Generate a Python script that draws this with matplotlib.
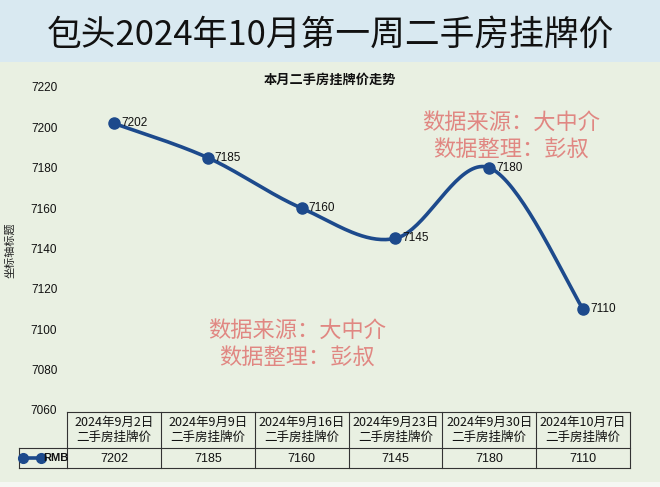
import numpy as np
import matplotlib
matplotlib.use('Agg')
import matplotlib.pyplot as plt
from matplotlib.lines import Line2D
from matplotlib.patches import Rectangle

plt.rcParams['font.family'] = ['Noto Sans CJK SC', 'DejaVu Sans']

title = '包头2024年10月第一周二手房挂牌价'
chart_title = '本月二手房挂牌价走势'
dates = ['2024年9月2日', '2024年9月9日', '2024年9月16日', '2024年9月23日',
         '2024年9月30日', '2024年10月7日']
row_label = '二手房挂牌价'
series_name = 'RMB'
prices = [7202, 7185, 7160, 7145, 7180, 7110]
y_ticks = [7060, 7080, 7100, 7120, 7140, 7160, 7180, 7200, 7220]
y_label = '坐标轴标题'
watermark = '数据来源：大中介\n数据整理：彭叔'

LINE_C = '#1d4a8c'
W, H = 660, 487
fig = plt.figure(figsize=(6.6, 4.87), dpi=100, facecolor='#f5f7f3')


def fx(px):
    return px / W


def fy(py):
    return 1 - py / H


fig.patches.append(Rectangle((0, fy(62)), 1, 62 / H, transform=fig.transFigure,
                             facecolor='#d9e9f1', edgecolor='none', zorder=-10))
fig.patches.append(Rectangle((0, fy(482)), 1, (482 - 62) / H, transform=fig.transFigure,
                             facecolor='#e9f0e2', edgecolor='none', zorder=-10))

fig.text(0.5, fy(35), title, fontsize=25, ha='center', va='center', color='#111111')
fig.text(0.5, fy(80), chart_title, fontsize=9.5, weight='bold', ha='center', va='center',
         color='#111111')
fig.text(fx(10), fy(250), y_label, rotation=90, fontsize=8, ha='center', va='center',
         color='#222222')

# main axes
ax = fig.add_axes([fx(67), fy(410), fx(630) - fx(67), (410 - 87) / H], zorder=2)
ax.set_facecolor('none')
n = len(prices)
ax.set_xlim(-0.5, n - 0.5)
ax.set_ylim(y_ticks[0], y_ticks[-1])
ax.set_yticks(y_ticks)
ax.set_yticklabels([str(t) for t in y_ticks], fontsize=8.5, color='#111111',
                   family=['Liberation Sans', 'DejaVu Sans'])
ax.tick_params(axis='y', length=0, pad=7)
ax.set_xticks([])
for s in ax.spines.values():
    s.set_visible(False)

# Excel-like smooth line (Catmull-Rom Bezier)
x = np.arange(n, dtype=float)
y = np.array(prices, dtype=float)
xs, ys = [], []
t = np.linspace(0, 1, 40)
for i in range(n - 1):
    i0 = i - 1 if i > 0 else i
    i3 = i + 2 if i + 2 < n else i + 1
    for arr, out in ((x, xs), (y, ys)):
        p0, p1, p2, p3 = arr[i0], arr[i], arr[i + 1], arr[i3]
        c1 = p1 + (p2 - p0) / 6
        c2 = p2 - (p3 - p1) / 6
        out.extend((1 - t) ** 3 * p1 + 3 * (1 - t) ** 2 * t * c1 + 3 * (1 - t) * t ** 2 * c2 + t ** 3 * p2)
ax.plot(xs, ys, color=LINE_C, lw=2.6, solid_capstyle='round', clip_on=False)
ax.plot(x, y, 'o', ms=8, color=LINE_C, clip_on=False)
for xi, v in zip(x, prices):
    ax.annotate(str(v), (xi, v), xytext=(5, 0), textcoords='offset points', ha='left',
                va='center', fontsize=8.5, color='#111111',
                family=['Liberation Sans', 'DejaVu Sans'])

# watermarks
for cx, cy in ((511, 136), (297, 344)):
    fig.text(fx(cx), fy(cy), watermark, color='#e07c78', fontsize=16, ha='center',
             va='center', linespacing=1.25, alpha=0.9, zorder=5)

# data table
tax = fig.add_axes([fx(67), fy(468), fx(630) - fx(67), (468 - 412) / H], zorder=2)
tax.set_xlim(-0.5, n - 0.5)
tax.set_ylim(56, 0)
tax.axis('off')
edge = '#333333'
for yy in (0, 36, 56):
    tax.plot([-0.5, n - 0.5], [yy, yy], color=edge, lw=0.8, clip_on=False)
for k in range(n + 1):
    tax.plot([k - 0.5, k - 0.5], [0, 56], color=edge, lw=0.8, clip_on=False)
for i, (d, v) in enumerate(zip(dates, prices)):
    tax.text(i, 18, f'{d}\n{row_label}', ha='center', va='center', fontsize=9,
             linespacing=1.15, color='#111111')
    tax.text(i, 46.5, str(v), ha='center', va='center', fontsize=9, color='#111111',
             family=['Liberation Sans', 'DejaVu Sans'])

# legend cell
for (x0, y0, x1, y1) in ((19, 448, 67, 448), (19, 468, 67, 468), (19, 448, 19, 468)):
    fig.add_artist(Line2D([fx(x0), fx(x1)], [fy(y0), fy(y1)], color=edge, lw=0.8,
                          transform=fig.transFigure))
fig.add_artist(Line2D([fx(23), fx(41)], [fy(458), fy(458)], color=LINE_C, lw=2.6,
                      marker='o', ms=7, transform=fig.transFigure))
fig.text(fx(43), fy(458), series_name, fontsize=8, ha='left', va='center', color='#111111',
         weight='bold', family=['Liberation Sans', 'DejaVu Sans'])

fig.savefig('out.png', dpi=100, facecolor=fig.get_facecolor())
